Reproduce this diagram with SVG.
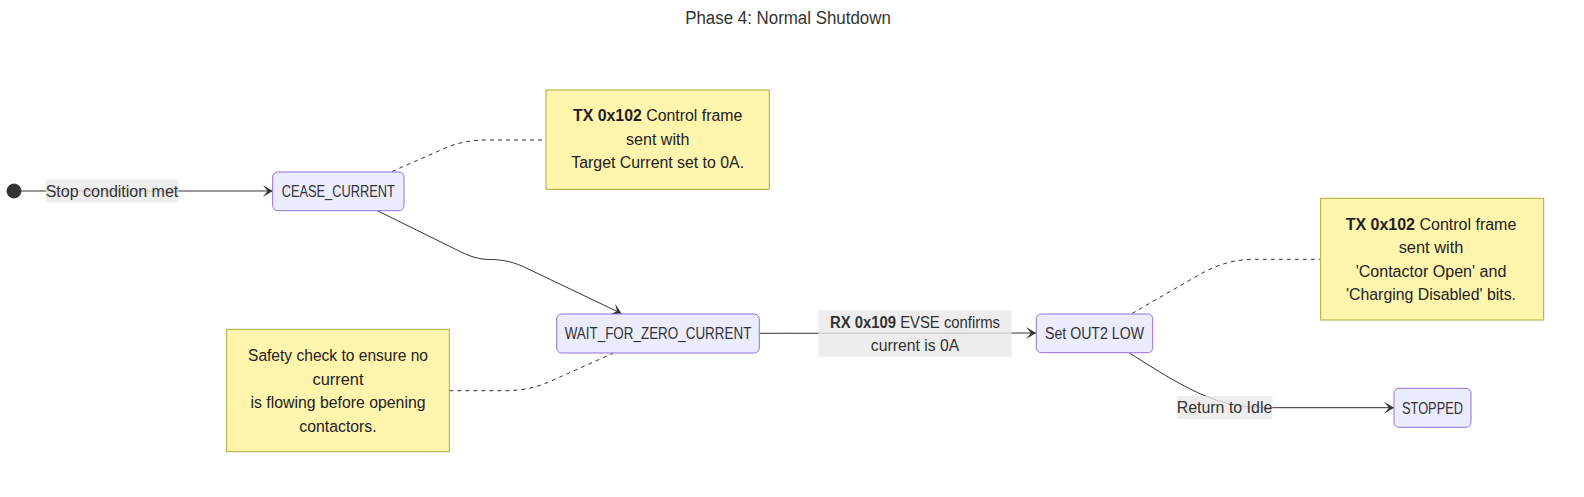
<svg xmlns="http://www.w3.org/2000/svg" width="1584" height="497" viewBox="0 0 1584 497">
<style>
  text { font-family: "Liberation Sans", Arial, sans-serif; font-size: 16px; fill: #333; text-anchor: middle; }
  .title { font-size: 18px; fill: #333; }
  .state { fill: #ECECFF; stroke: #9370DB; stroke-width: 1; }
  .note { fill: #FFF5AD; stroke: #AAAA33; stroke-width: 1; }
  .edge { fill: none; stroke: #333; stroke-width: 1; }
  .dash { fill: none; stroke: #333; stroke-width: 1; stroke-dasharray: 4 4; }
  .lbl { fill: #e8e8e8; opacity: 0.8; }
  .ntext { fill: #222; }
  .b { font-weight: bold; }
</style>
<defs>
  <marker id="barb" markerWidth="20" markerHeight="14" refX="19" refY="7" orient="auto" markerUnits="userSpaceOnUse">
    <path d="M19,7 L9,13 L14,7 L9,1 Z" fill="#333"/>
  </marker>
</defs>
<rect width="1584" height="497" fill="#ffffff"/>
<text class="title" x="788" y="24" textLength="205.7" lengthAdjust="spacingAndGlyphs">Phase 4: Normal Shutdown</text>

<g id="connectors">
  <path class="edge" d="M21,191 L272.7,191" marker-end="url(#barb)"/>
  <path class="edge" d="M377,210.5 L455,249 C470,257 480,259.5 490,259.5 C500,259.5 510,261 522,266 L621.5,313.5" marker-end="url(#barb)"/>
  <path class="edge" d="M759.3,333.3 L1036,333" marker-end="url(#barb)"/>
  <path class="edge" d="M1129.3,353 C1160,372 1195,396 1230,404 C1245,407.5 1260,407.7 1280,407.7 L1394,407.7" marker-end="url(#barb)"/>
  <path class="dash" d="M392,171.5 L450,146 C465,141 475,140 490,140 L546,140"/>
  <path class="dash" d="M449.3,390.7 L505,390.7 C530,390.7 545,384 560,377 L613,353.3"/>
  <path class="dash" d="M1132,313.5 L1190,280 C1210,268 1228,259.3 1255,259.3 L1320.7,259.3"/>
  <g id="label-stop">
    <rect class="lbl" x="45.7" y="179.5" width="132.6" height="23"/>
    <text x="112" y="196.7" textLength="132.6" lengthAdjust="spacingAndGlyphs">Stop condition met</text>
  </g>
  <g id="label-rx">
    <rect class="lbl" x="818.3" y="310.3" width="193.4" height="46.4"/>
    <text x="915" y="327.7" textLength="170" lengthAdjust="spacingAndGlyphs"><tspan class="b">RX 0x109</tspan> EVSE confirms</text>
    <text x="915" y="350.7" textLength="88.3" lengthAdjust="spacingAndGlyphs">current is 0A</text>
  </g>
  <g id="label-return">
    <rect class="lbl" x="1176.7" y="396" width="95.6" height="23"/>
    <text x="1224.5" y="413" textLength="95.6" lengthAdjust="spacingAndGlyphs">Return to Idle</text>
  </g>
</g>

<g id="start">
  <circle cx="14" cy="191" r="7" fill="#333" stroke="#333" stroke-width="1"/>
</g>

<g id="CEASE_CURRENT">
  <rect class="state" x="272.7" y="172" width="131.3" height="38.7" rx="5" ry="5"/>
  <text x="338.3" y="196.8" textLength="113.3" lengthAdjust="spacingAndGlyphs">CEASE_CURRENT</text>
</g>

<g id="note-cease">
  <rect class="note" x="546" y="90" width="223.3" height="99.3"/>
  <text class="ntext" x="657.7" y="120.7" textLength="169.3" lengthAdjust="spacingAndGlyphs"><tspan class="b">TX 0x102</tspan> Control frame</text>
  <text class="ntext" x="657.7" y="144.5" textLength="63.3" lengthAdjust="spacingAndGlyphs">sent with</text>
  <text class="ntext" x="657.7" y="168.3" textLength="172.7" lengthAdjust="spacingAndGlyphs">Target Current set to 0A.</text>
</g>

<g id="WAIT_FOR_ZERO_CURRENT">
  <rect class="state" x="556.7" y="314" width="202.6" height="39" rx="5" ry="5"/>
  <text x="658" y="339.2" textLength="186.7" lengthAdjust="spacingAndGlyphs">WAIT_FOR_ZERO_CURRENT</text>
</g>

<g id="note-wait">
  <rect class="note" x="226.7" y="329.3" width="222.6" height="122.4"/>
  <text class="ntext" x="338" y="361.4" textLength="180" lengthAdjust="spacingAndGlyphs">Safety check to ensure no</text>
  <text class="ntext" x="338" y="384.7" textLength="51" lengthAdjust="spacingAndGlyphs">current</text>
  <text class="ntext" x="338" y="408" textLength="175" lengthAdjust="spacingAndGlyphs">is flowing before opening</text>
  <text class="ntext" x="338" y="431.6" textLength="77.3" lengthAdjust="spacingAndGlyphs">contactors.</text>
</g>

<g id="SET_OUT2_LOW">
  <rect class="state" x="1036.3" y="314" width="116.4" height="38.7" rx="5" ry="5"/>
  <text x="1094.5" y="338.6" textLength="99" lengthAdjust="spacingAndGlyphs">Set OUT2 LOW</text>
</g>

<g id="note-out2">
  <rect class="note" x="1320.7" y="198.3" width="223" height="121.7"/>
  <text class="ntext" x="1431" y="230" textLength="170.7" lengthAdjust="spacingAndGlyphs"><tspan class="b">TX 0x102</tspan> Control frame</text>
  <text class="ntext" x="1431" y="253.4" textLength="64.7" lengthAdjust="spacingAndGlyphs">sent with</text>
  <text class="ntext" x="1431" y="276.7" textLength="150.7" lengthAdjust="spacingAndGlyphs">'Contactor Open' and</text>
  <text class="ntext" x="1431" y="300" textLength="170" lengthAdjust="spacingAndGlyphs">'Charging Disabled' bits.</text>
</g>

<g id="STOPPED">
  <rect class="state" x="1394" y="388.3" width="77" height="39" rx="5" ry="5"/>
  <text x="1432.5" y="413.5" textLength="61" lengthAdjust="spacingAndGlyphs">STOPPED</text>
</g>
</svg>
